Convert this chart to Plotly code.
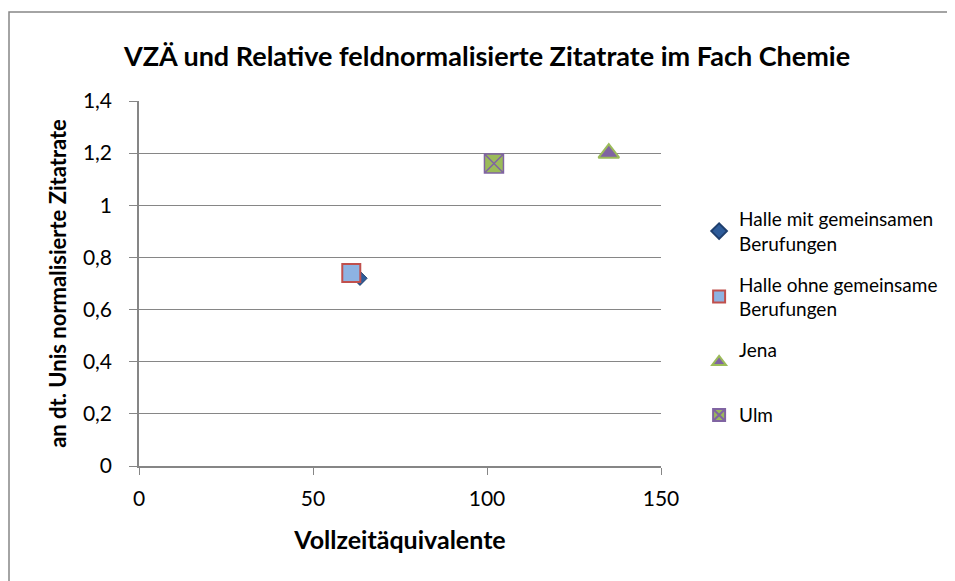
import plotly.graph_objects as go

series_names = ["Halle mit gemeinsamen<br>Berufungen", "Halle ohne gemeinsame<br>Berufungen", "Jena<br> ", "Ulm"]
x_values = [63.5, 61.0, 135.0, 102.0]
y_values = [0.72, 0.74, 1.20, 1.16]
y_ticks = [0, 0.2, 0.4, 0.6, 0.8, 1.0, 1.2, 1.4]
y_tick_labels = ["0", "0,2", "0,4", "0,6", "0,8", "1", "1,2", "1,4"]
x_ticks = [0, 50, 100, 150]

styles = [
    dict(symbol="diamond", size=11, color="#2E5C9A", line=dict(color="#1F3F6E", width=1)),
    dict(symbol="square", size=18, color="#8DB3E2", line=dict(color="#C0504D", width=2)),
    dict(symbol="triangle-up", size=18, color="#8064A2", line=dict(color="#9BBB59", width=2)),
    dict(symbol="square-x", size=19, color="#9BBB59", line=dict(color="#8064A2", width=1.5)),
]

FONT = "Lato, 'Open Sans', sans-serif"
L, T, PW, PH = 131, 93, 522, 365
fig = go.Figure()
for i, name in enumerate(series_names):
    fig.add_trace(go.Scatter(
        x=[x_values[i]], y=[y_values[i]], mode="markers", name=name,
        legendgroup=str(i), marker=styles[i],
    ))

fig.update_layout(
    width=955, height=581,
    paper_bgcolor="white", plot_bgcolor="white",
    margin=dict(l=L, r=955 - L - PW, t=T, b=581 - T - PH),
    font=dict(family=FONT, size=21, color="black"),
    title=dict(text="<b>VZÄ und Relative feldnormalisierte Zitatrate im Fach Chemie</b>",
               x=0.5016, xanchor="center", y=0.9157, yanchor="middle",
               font=dict(size=27, family=FONT)),
    xaxis=dict(range=[0, 150], tickvals=x_ticks, showgrid=False, zeroline=False,
               showline=True, linecolor="#868686", linewidth=1.5,
               ticks="outside", ticklen=7, tickcolor="#868686", ticklabelstandoff=6,
               title=dict(text="<b>Vollzeitäquivalente</b>", font=dict(size=25), standoff=23),
               tickfont=dict(size=21)),
    yaxis=dict(range=[0, 1.4], tickvals=y_ticks, ticktext=y_tick_labels,
               showgrid=True, gridcolor="#868686", gridwidth=1.3, zeroline=False,
               showline=True, linecolor="#868686", linewidth=1.5,
               ticks="outside", ticklen=8, tickcolor="#868686", ticklabelstandoff=13,
               title=dict(text="<b>an dt. Unis normalisierte Zitatrate</b>", font=dict(size=22), standoff=10),
               tickfont=dict(size=21)),
    legend=dict(x=1.073, xanchor="left", y=0.729, yanchor="top",
                font=dict(size=19, family=FONT), tracegroupgap=13,
                itemsizing="constant", bgcolor="rgba(0,0,0,0)"),
    showlegend=True,
)

fig.add_shape(type="rect", xref="paper", yref="paper",
              x0=(1 - L) / PW, y0=-0.6, x1=1.7, y1=(T + PH - 4) / PH,
              line=dict(color="#868686", width=1.5), fillcolor="rgba(0,0,0,0)", layer="below")

fig.write_html("out.html")
